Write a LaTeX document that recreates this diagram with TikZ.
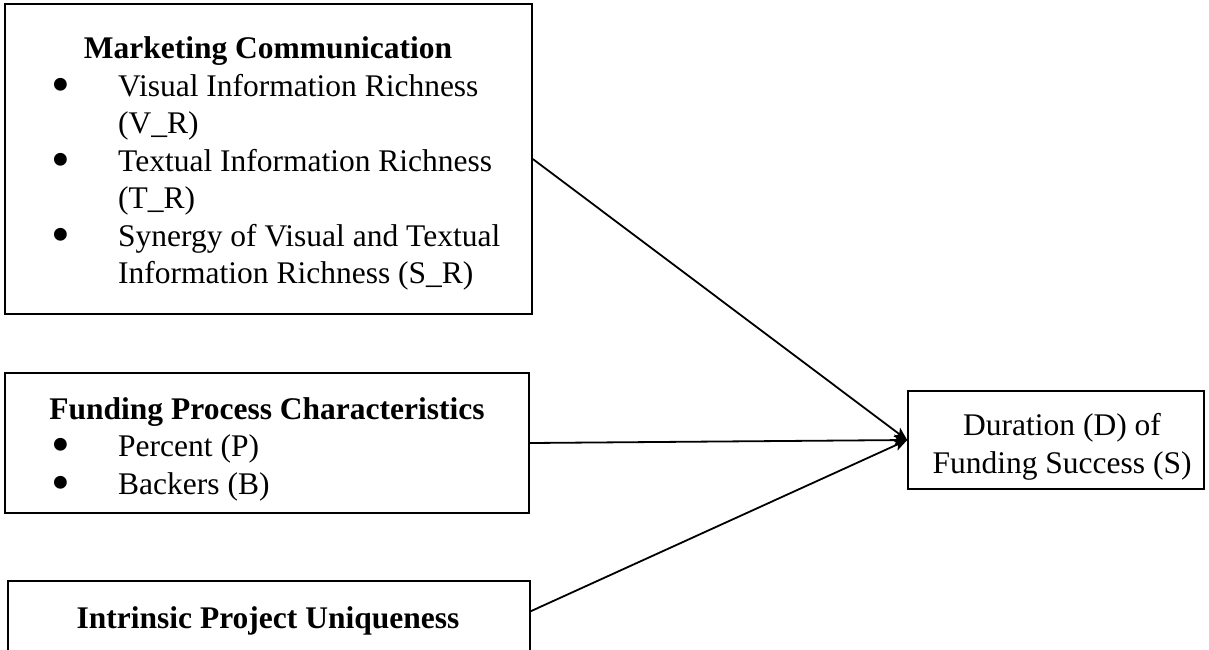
\documentclass[tikz,border=0pt]{standalone}
\usepackage{fontspec}
\setmainfont{Liberation Serif}
\usetikzlibrary{arrows.meta}
\newcommand{\listdot}{\smash{\scalebox{1.7}{\raisebox{-3.7pt}{•}}}}
\begin{document}
\begin{tikzpicture}[x=1pt,y=-1pt,
  box/.style={draw, line width=1.6pt, inner sep=0pt},
  txt/.style={font=\fontsize{31.5}{37.5}\selectfont, inner sep=0pt},
  head/.style={txt, font=\fontsize{31.5}{37.5}\selectfont\bfseries, anchor=base},
  item/.style={txt, anchor=base west},
  dot/.style={inner sep=0pt, anchor=base, font=\fontsize{31.5}{37.5}\selectfont},
  link/.style={line width=1.8pt, -{Stealth[length=13pt,width=11pt,inset=3pt]}}]
\useasboundingbox (0,0) rectangle (1209,649);

% Marketing communication block
\node[box, minimum width=527pt, minimum height=310pt] (mc) at (268.5,159) {};
\node[head] (mch) at (268,58.5) {Marketing Communication};
\node[dot] (mcb1) at (61,96) {\listdot};
\node[item] (mc1) at (118,96) {Visual Information Richness};
\node[item] (mc1b) at (118,133.5) {(V\_R)};
\node[dot] (mcb2) at (61,171) {\listdot};
\node[item] (mc2) at (118,171) {Textual Information Richness};
\node[item] (mc2b) at (118,208.5) {(T\_R)};
\node[dot] (mcb3) at (61,246) {\listdot};
\node[item] (mc3) at (118,246) {Synergy of Visual and Textual};
\node[item] (mc3b) at (118,283.5) {Information Richness (S\_R)};

% Funding process block
\node[box, minimum width=524pt, minimum height=140pt] (fp) at (267,443) {};
\node[head] (fph) at (267,419) {Funding Process Characteristics};
\node[dot] (fpb1) at (61,456.5) {\listdot};
\node[item] (fp1) at (118,456.5) {Percent (P)};
\node[dot] (fpb2) at (61,494) {\listdot};
\node[item] (fp2) at (118,494) {Backers (B)};

% Project uniqueness block (runs past the lower edge)
\node[box, minimum width=522pt, minimum height=139pt] (ip) at (269,650.5) {};
\node[head] (iph) at (268,628) {Intrinsic Project Uniqueness};

% Outcome
\node[box, minimum width=296pt, minimum height=98pt] (ds) at (1056,440) {};
\node[txt, anchor=base] (ds1) at (1062,435) {Duration (D) of};
\node[txt, anchor=base] (ds2) at (1062,473) {Funding Success (S)};

% Connectors
\draw[link] (mc.east) -- (ds.west);
\draw[link] (fp.east) -- (ds.west);
\draw[link] ([yshift=-31pt]ip.north east) -- (ds.west);
\end{tikzpicture}
\end{document}
